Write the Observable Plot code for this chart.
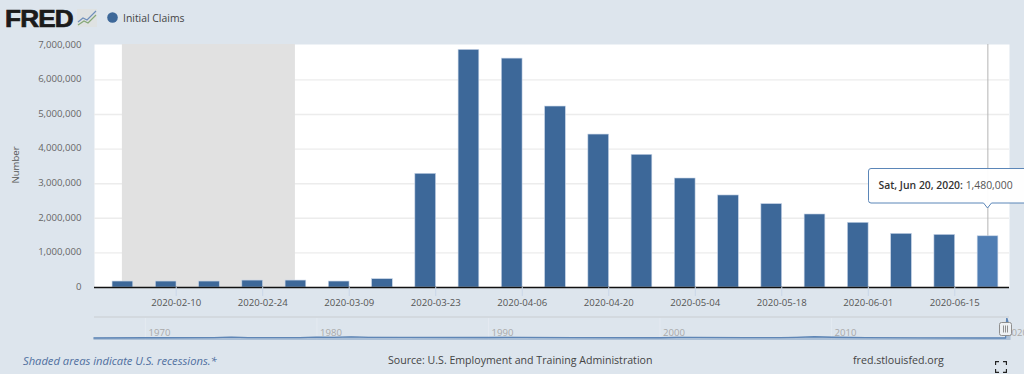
<!DOCTYPE html>
<html><head><meta charset="utf-8">
<script src="https://cdn.jsdelivr.net/npm/d3@7"></script>
<script src="https://cdn.jsdelivr.net/npm/@observablehq/plot@0.6"></script>
<style>
html,body{margin:0;padding:0;background:#dde5ed;overflow:hidden}
#page{position:relative;width:1024px;height:374px;overflow:hidden;font-family:"Open Sans",sans-serif}
#page>svg,#nav svg{display:block;background:transparent}
.abs{position:absolute;white-space:nowrap;line-height:1}
</style></head><body><div id="page"></div>
<script>
const weeks = ["2020-02-01","2020-02-08","2020-02-15","2020-02-22","2020-02-29","2020-03-07","2020-03-14","2020-03-21","2020-03-28","2020-04-04","2020-04-11","2020-04-18","2020-04-25","2020-05-02","2020-05-09","2020-05-16","2020-05-23","2020-05-30","2020-06-06","2020-06-13","2020-06-20"];
const claims = [172000,172000,172000,200000,200000,172000,240000,3286000,6867000,6615000,5230000,4420000,3835000,3150000,2660000,2410000,2110000,1870000,1550000,1520000,1480000];
const xTicks = ["2020-02-10","2020-02-24","2020-03-09","2020-03-23","2020-04-06","2020-04-20","2020-05-04","2020-05-18","2020-06-01","2020-06-15"];
const yTicks = [0,1000000,2000000,3000000,4000000,5000000,6000000,7000000];
const recession = ["2020-02-01T07:00Z","2020-02-29T07:00Z"];
const navYears = [1967,1970,1971,1974,1975,1976,1979,1980,1981,1982,1983,1985,1990,1991,1992,1995,2000,2001,2002,2005,2007,2008,2009,2010,2012,2015,2019,2020.15,2020.22,2020.3,2020.47];
const navClaims = [210000,300000,290000,350000,470000,370000,370000,480000,420000,600000,420000,390000,380000,440000,400000,340000,300000,420000,390000,320000,310000,450000,620000,460000,370000,280000,210000,220000,6840000,5210000,1480000];
const navLabels = [1970,1980,1990,2000,2010,2020];

const d = s => new Date(s + "T00:00Z");
const shift = (date, days) => new Date(date.getTime() + days * 864e5);
const rows = weeks.map((w, i) => ({date: d(w), value: claims[i]}));
const last = rows[rows.length - 1];
const page = document.getElementById("page");

const main = Plot.plot({
  width: 1024, height: 374,
  marginTop: 44, marginBottom: 87, marginLeft: 94, marginRight: 15,
  style: {background: "transparent", fontFamily: "'Open Sans',sans-serif", fontSize: "9.6px", overflow: "visible"},
  x: {type: "utc", domain: [new Date("2020-01-27T18:40Z"), new Date("2020-06-23T20:24Z")], label: null},
  y: {domain: [0, 7023000], label: null},
  marks: [
    Plot.frame({fill: "#ffffff", stroke: null}),
    Plot.ruleY(yTicks.slice(1, -1), {stroke: "#ececec", strokeWidth: 1.4}),
    Plot.rectY([0], {x1: () => new Date(recession[0]), x2: () => new Date(recession[1]), y1: 0, y2: 7023000, fill: "#e1e1e1"}),
    Plot.ruleX([shift(last.date, 0.35)], {y1: 0, y2: 7023000, stroke: "#b5b5b5", strokeWidth: 1}),
    Plot.rectY(rows, {
      x1: r => shift(r.date, -1.3), x2: r => shift(r.date, 2.05), y: "value",
      fill: r => r === last ? "#4f7db3" : "#3d6899",
      stroke: "#c5d3e6", strokeWidth: 0.6
    }),
    Plot.ruleY([0], {stroke: "#111111", strokeWidth: 1.5}),
    Plot.axisX({anchor: "bottom", ticks: xTicks.map(d), tickFormat: t => d3.utcFormat("%Y-%m-%d")(t), tickSize: 9, tickPadding: 3, stroke: "#c9d6e8", fill: "#555555", fontSize: 9.6, label: null}),
    Plot.axisY({anchor: "left", ticks: yTicks, tickFormat: v => d3.format(",")(v), tickSize: 0, tickPadding: 13, fill: "#666666", fontSize: 9.6, dy: -0.8, label: null})
  ]
});
page.appendChild(main);

const navRows = navYears.map((y, i) => ({y, v: navClaims[i]}));
const navMin = -600000;
const nav = Plot.plot({
  width: 915, height: 23,
  marginTop: 0, marginBottom: 0, marginLeft: 0, marginRight: 0,
  style: {background: "transparent", overflow: "visible", fontFamily: "'Open Sans',sans-serif"},
  x: {domain: [1967.03, 2020.38], axis: null},
  y: {domain: [navMin, 6900000], axis: null},
  marks: [
    Plot.ruleX(navLabels.slice(0,5), {y1: navMin, y2: 6900000, stroke: "#e4eaf1", strokeWidth: 1}),
    Plot.areaY(navRows, {x: "y", y1: navMin, y2: "v", fill: "#8ca6c8", fillOpacity: 0.6}),
    Plot.lineY(navRows, {x: "y", y: "v", stroke: "#5f86b6", strokeWidth: 1.3}),
    Plot.text(navLabels, {x: d => d, frameAnchor: "top", dy: 12, dx: 3, textAnchor: "start", text: d => String(d), fill: "#a9a9a9", fontSize: 9.6})
  ]
});
const navWrap = document.createElement("div");
navWrap.id = "nav";
navWrap.style.cssText = "position:absolute;left:94px;top:317px;width:915px;height:23px;";
navWrap.appendChild(nav);
page.appendChild(navWrap);

function add(html, css){const e=document.createElement("div");e.className="abs";e.style.cssText=css;e.innerHTML=html;page.appendChild(e);return e;}
// navigator top band
add("", "left:94px;top:316px;width:915px;height:2px;background:#d3d9df");
// handle
add('<svg width="14" height="15" style="display:block"><rect x="0.5" y="0.5" width="12" height="13" rx="2" fill="#eef1f4" stroke="#8f8f8f"/><path d="M4.5 3.5v7M6.5 3.5v7M8.5 3.5v7" stroke="#8f8f8f"/></svg>', "left:999px;top:322px;");
// logo
add("FRED", 'left:5px;top:8px;font-family:"Liberation Sans",sans-serif;font-weight:700;font-size:23.5px;letter-spacing:-0.7px;color:#1b1b1b;-webkit-text-stroke:0.7px #1b1b1b;transform-origin:left top;transform:scaleX(1.11);');
add('<svg width="20" height="18" style="display:block"><rect width="20" height="18" fill="#dfe2e2"/><path d="M1 13L6 9L10 11L19 2" fill="none" stroke="#6f8fbb" stroke-width="1.2"/><path d="M1 16L7 12L11 14L19 6" fill="none" stroke="#86a878" stroke-width="1.2"/></svg>', "left:77px;top:9px;");
// legend
add('<svg width="11" height="11" style="display:block"><circle cx="5.5" cy="5.5" r="5.3" fill="#3d6899"/></svg>', "left:106.5px;top:11.5px;");
add("Initial Claims", "left:123px;top:12.5px;font-size:10.4px;color:#444;");
// axis title
add("Number", "left:15.5px;top:165px;font-size:9.6px;color:#555;transform:translate(-50%,-50%) rotate(-90deg);");
// footer
add("Shaded areas indicate U.S. recessions.*", "left:23px;top:355px;font-size:11.2px;font-style:italic;color:#4f6f9f;");
add("Source: U.S. Employment and Training Administration", "left:388px;top:355px;font-size:10.6px;color:#444;");
add("fred.stlouisfed.org", "left:853px;top:355px;font-size:10.65px;color:#444;");
add('<svg width="12" height="12" style="display:block"><path d="M0.5 4V0.5H4M8 0.5H11.5V4M11.5 8V11.5H8M4 11.5H0.5V8" fill="none" stroke="#222" stroke-width="1.3"/></svg>', "left:995px;top:361px;");
// tooltip
add('<svg width="160" height="44" style="display:block;overflow:visible"><path d="M3 0.5H170V35H123.5L119.5 40L115.5 35H3Q0.5 35 0.5 32.5V3Q0.5 0.5 3 0.5Z" fill="rgba(255,255,255,0.95)" stroke="#5b86b8" stroke-width="1"/></svg>', "left:868px;top:167.5px;");
add('<b style="font-weight:600;color:#333">Sat, Jun 20, 2020:</b> <span style="color:#555">1,480,000</span>', "left:878.5px;top:180px;font-size:10.4px;");
</script></body></html>
